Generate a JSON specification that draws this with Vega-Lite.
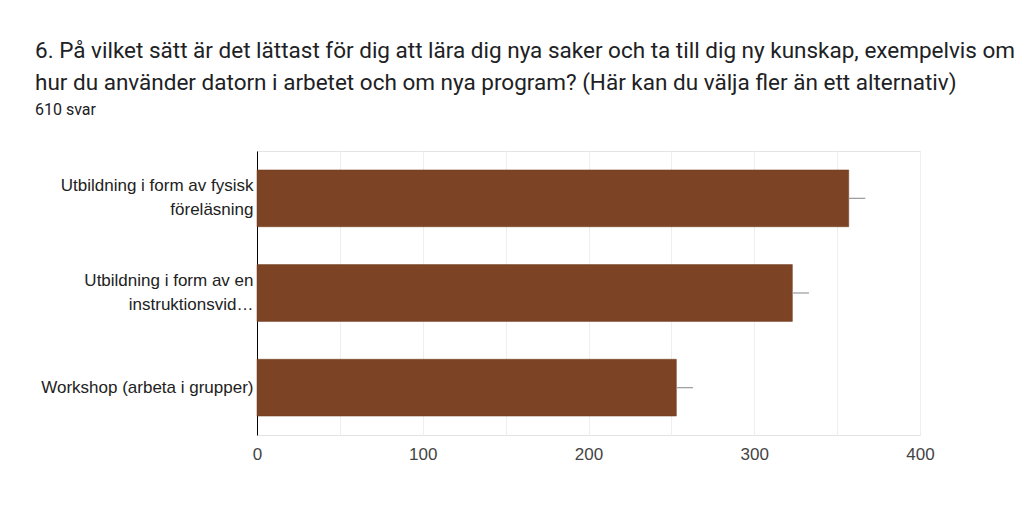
{
  "$schema": "https://vega.github.io/schema/vega-lite/v6.json",
  "width": 663,
  "height": 284,
  "autosize": {"type": "none"},
  "padding": {"left": 257, "top": 151, "right": 103, "bottom": 85},
  "background": "white",
  "title": {
    "text": ["6. På vilket sätt är det lättast för dig att lära dig nya saker och ta till dig ny kunskap, exempelvis om", "hur du använder datorn i arbetet och om nya program? (Här kan du välja fler än ett alternativ)"],
    "subtitle": "610 svar",
    "anchor": "start",
    "frame": "group",
    "dx": -222,
    "offset": 33,
    "font": "Roboto",
    "fontSize": 22.5,
    "fontWeight": "normal",
    "color": "#202124",
    "lineHeight": 32,
    "subtitleFont": "Roboto",
    "subtitleFontSize": 16,
    "subtitleColor": "#202124",
    "subtitlePadding": 8
  },
  "data": {
    "values": [
      {"alternativ": "Utbildning i form av fysisk föreläsning", "antal": 357, "hi": 367},
      {"alternativ": "Utbildning i form av en instruktionsvideo", "antal": 323, "hi": 333},
      {"alternativ": "Workshop (arbeta i grupper)", "antal": 253, "hi": 263}
    ]
  },
  "encoding": {
    "y": {
      "field": "alternativ",
      "type": "nominal",
      "sort": null,
      "scale": {"paddingInner": 0.4, "paddingOuter": 0.2},
      "axis": {
        "title": null,
        "ticks": false,
        "domainColor": "#000000",
        "domainWidth": 1,
        "labelFont": "Liberation Sans",
        "labelFontSize": 17,
        "labelColor": "#222222",
        "labelPadding": 4,
        "labelLineHeight": 24,
        "labelLimit": 260,
        "labelOffset": {"condition": {"test": "datum.value == 'Workshop (arbeta i grupper)'", "value": 0}, "value": -12},
        "labelExpr": "datum.label == 'Utbildning i form av fysisk föreläsning' ? ['Utbildning i form av fysisk', 'föreläsning'] : datum.label == 'Utbildning i form av en instruktionsvideo' ? ['Utbildning i form av en', 'instruktionsvid…'] : datum.label"
      }
    }
  },
  "layer": [
    {
      "mark": {"type": "bar", "color": "#7c4424", "stroke": "#6e3b1e", "strokeWidth": 0.5},
      "encoding": {
        "x": {
          "field": "antal",
          "type": "quantitative",
          "scale": {"domain": [0, 400], "nice": false},
          "axis": {
            "title": null,
            "values": [0, 50, 100, 150, 200, 250, 300, 350, 400],
            "labelExpr": "datum.value % 100 == 0 ? datum.label : ''",
            "labelFlush": false,
            "domain": false,
            "ticks": false,
            "grid": true,
            "gridColor": "#eeeeee",
            "labelFont": "Liberation Sans",
            "labelFontSize": 17,
            "labelColor": "#444444",
            "labelPadding": 11
          }
        }
      }
    },
    {
      "mark": {"type": "rule", "color": "#999999", "strokeWidth": 1.2},
      "encoding": {
        "x": {"field": "antal", "type": "quantitative"},
        "x2": {"field": "hi"}
      }
    }
  ],
  "config": {
    "view": {"stroke": "#e3e3e3", "strokeWidth": 1}
  }
}
